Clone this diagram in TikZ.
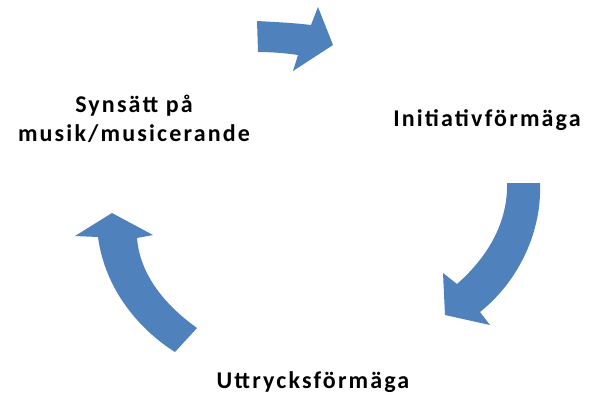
\documentclass[tikz,border=0pt]{standalone}
\usepackage{fontspec}
\setmainfont{Carlito}
\newfontfamily\labelfont[LetterSpace=9]{Carlito}
\definecolor{cycleblue}{RGB}{79,129,189}
\tikzset{
  cyclearrow/.style={fill=cycleblue, draw=none},
  cyclelabel/.style={font=\labelfont\bfseries\fontsize{24}{29}\selectfont, align=center, inner sep=0pt}
}
\begin{document}
\begin{tikzpicture}[x=1pt, y=-1pt]
\useasboundingbox (0,0) rectangle (589,397);

% labels
\node[cyclelabel] (synsatt) at (134,119) {Synsätt på\\musik/musicerande};
\node[cyclelabel] (initiativ) at (487,120) {Initiativförmäga};
\node[cyclelabel] (uttryck) at (313,382) {Uttrycksförmäga};

% arrows
\fill[cyclearrow] (257,21) .. controls (275,22) and (295,23) .. (311,25)
  -- (318,7) -- (333,45) -- (293,71) -- (298,55)
  .. controls (285,53) and (270,52) .. (258,52) -- cycle;
\fill[cyclearrow] (507,183) -- (540,183)
  .. controls (542,230) and (520,280) .. (480,312)
  -- (490,325) -- (445,315) -- (443,273) -- (457,284)
  .. controls (490,255) and (508,220) .. (507,183) -- cycle;
\fill[cyclearrow] (175,352) .. controls (140,330) and (105,290) .. (98,237)
  -- (75,236) -- (112,213) -- (153,235) -- (137,238)
  .. controls (140,275) and (165,305) .. (197,328) -- cycle;
\end{tikzpicture}
\end{document}
